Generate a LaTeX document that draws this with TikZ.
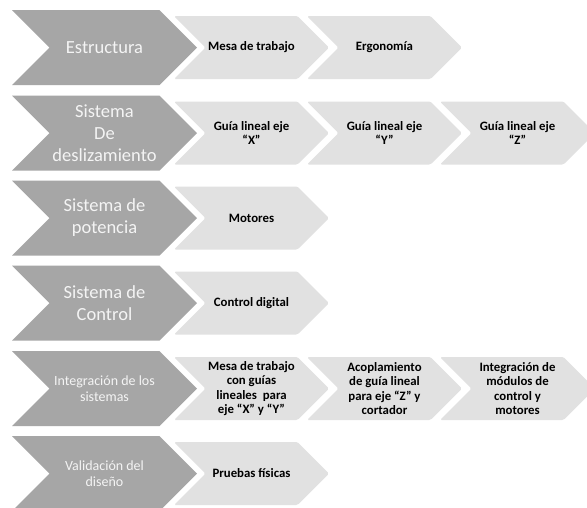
\documentclass[tikz,border=0pt]{standalone}
\usepackage{fontspec}
\setmainfont{Carlito}
\definecolor{darkchev}{HTML}{A6A6A6}
\definecolor{lightchev}{HTML}{E1E1E1}
\definecolor{darktext}{HTML}{F4F4F4}
\newcommand\chevpath[5]{%
  \fill[#5] (#1,{#2-#4}) -- ({#1+#3-#4},{#2-#4}) -- ({#1+#3},#2) -- ({#1+#3-#4},{#2+#4}) -- (#1,{#2+#4}) -- ({#1+#4},#2) -- cycle;}
\tikzset{
  darkfill/.style={darkchev},
  lightfill/.style={lightchev, rounded corners=1.5pt},
  bigtxt/.style={text=darktext, align=center, font=\fontsize{18.5}{22}\selectfont},
  midtxt/.style={text=darktext, align=center, font=\fontsize{14}{16}\selectfont},
  smalltxt/.style={text=black, align=center, font=\bfseries\fontsize{12.8}{14.5}\selectfont},
}
\begin{document}
\begin{tikzpicture}[x=1pt,y=-1pt]
\clip (0,0) rectangle (587,507);
\fill[white] (0,0) rectangle (587,507);
% light chevrons
\chevpath{174}{47.5}{155}{31.5}{lightfill}
\chevpath{307}{47.5}{155}{31.5}{lightfill}
\chevpath{174}{133}{155}{31.5}{lightfill}
\chevpath{307}{133}{155}{31.5}{lightfill}
\chevpath{440}{133}{155}{31.5}{lightfill}
\chevpath{174}{218}{155}{31.5}{lightfill}
\chevpath{174}{303}{155}{31.5}{lightfill}
\chevpath{174}{388.5}{155}{31.5}{lightfill}
\chevpath{307}{388.5}{155}{31.5}{lightfill}
\chevpath{440}{388.5}{155}{31.5}{lightfill}
\chevpath{174}{473.5}{155}{31.5}{lightfill}
% dark chevrons
\chevpath{12}{47.5}{185}{37.5}{darkfill}
\chevpath{12}{133}{185}{37.5}{darkfill}
\chevpath{12}{218}{185}{37.5}{darkfill}
\chevpath{12}{303}{185}{37.5}{darkfill}
\chevpath{12}{388.5}{185}{37.5}{darkfill}
\chevpath{12}{473.5}{185}{37.5}{darkfill}
% dark texts
\node[bigtxt] (d1) at (104.5,47.5) {Estructura};
\node[bigtxt] (d2) at (104.5,133) {Sistema\\De\\deslizamiento};
\node[bigtxt] (d3) at (104.5,218) {Sistema de\\potencia};
\node[bigtxt] (d4) at (104.5,303) {Sistema de\\Control};
\node[midtxt] (d5) at (104.5,388.5) {Integración de los\\sistemas};
\node[midtxt] (d6) at (104.5,473.5) {Validación del\\diseño};
% light texts
\node[smalltxt] (a1) at (251.5,47.5) {Mesa de trabajo};
\node[smalltxt] (a2) at (384.5,47.5) {Ergonomía};
\node[smalltxt] (b1) at (251.5,133) {Guía lineal eje\\“X”};
\node[smalltxt] (b2) at (384.5,133) {Guía lineal eje\\“Y”};
\node[smalltxt] (b3) at (517.5,133) {Guía lineal eje\\“Z”};
\node[smalltxt] (c1) at (251.5,218) {Motores};
\node[smalltxt] (e1) at (251.5,303) {Control digital};
\node[smalltxt] (f1) at (251.5,388.5) {Mesa de trabajo\\con guías\\lineales\ \ para\\eje “X” y “Y”};
\node[smalltxt] (f2) at (384.5,388.5) {Acoplamiento\\de guía lineal\\para eje “Z” y\\cortador};
\node[smalltxt] (f3) at (517.5,388.5) {Integración de\\módulos de\\control y\\motores};
\node[smalltxt] (g1) at (251.5,473.5) {Pruebas físicas};
\end{tikzpicture}
\end{document}
